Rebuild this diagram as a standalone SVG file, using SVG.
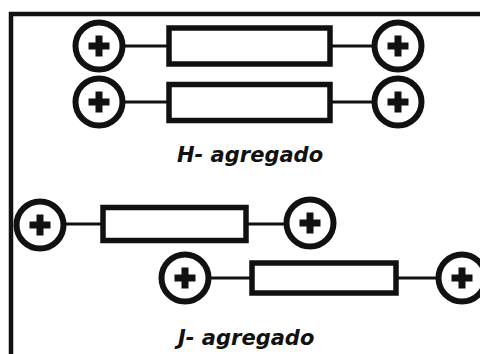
<svg xmlns="http://www.w3.org/2000/svg" width="480" height="354" viewBox="0 0 480 354">
<defs>
<style>
.ring{fill:#fff;stroke:#111;stroke-width:6}
.plus{fill:none;stroke:#111;stroke-width:7}
.res{fill:#fff;stroke:#111;stroke-width:5.5}
.wire{stroke:#111;stroke-width:3;fill:none}
.frame{stroke:#111;stroke-width:4.5;fill:none}
.lbl{font-family:"DejaVu Sans",sans-serif;font-weight:bold;font-style:italic;font-size:21px;fill:#111}
</style>
<g id="term">
<circle class="ring" cx="0" cy="0" r="23.5"/>
<path class="plus" d="M-10.5 0H10.5M0 -10.5V10.5"/>
</g>
</defs>
<rect width="480" height="354" fill="#fff"/>
<path class="frame" d="M11 354V14H480"/>
<g id="connectors">
<path class="wire" d="M125 46H169M330 46H372"/>
<path class="wire" d="M125 102H169M330 102H372"/>
<path class="wire" d="M65 224H103M246 224H285"/>
<path class="wire" d="M211 278H252M396 278H436"/>
</g>
<g id="h1">
<use href="#term" x="99" y="46"/>
<rect class="res" x="169" y="28" width="161" height="36"/>
<use href="#term" x="398" y="46"/>
</g>
<g id="h2">
<use href="#term" x="99" y="102"/>
<rect class="res" x="169" y="84.5" width="161" height="36"/>
<use href="#term" x="398" y="102"/>
</g>
<g id="j1">
<use href="#term" x="40" y="225"/>
<rect class="res" x="103" y="207.5" width="143" height="33"/>
<use href="#term" x="310" y="223"/>
</g>
<g id="j2">
<use href="#term" x="185" y="278"/>
<rect class="res" x="252" y="263" width="144" height="30"/>
<use href="#term" x="462" y="278"/>
</g>
<text id="h-label" class="lbl" x="177" y="162">H- agregado</text>
<text id="j-label" class="lbl" x="178" y="345">J- agregado</text>
</svg>
